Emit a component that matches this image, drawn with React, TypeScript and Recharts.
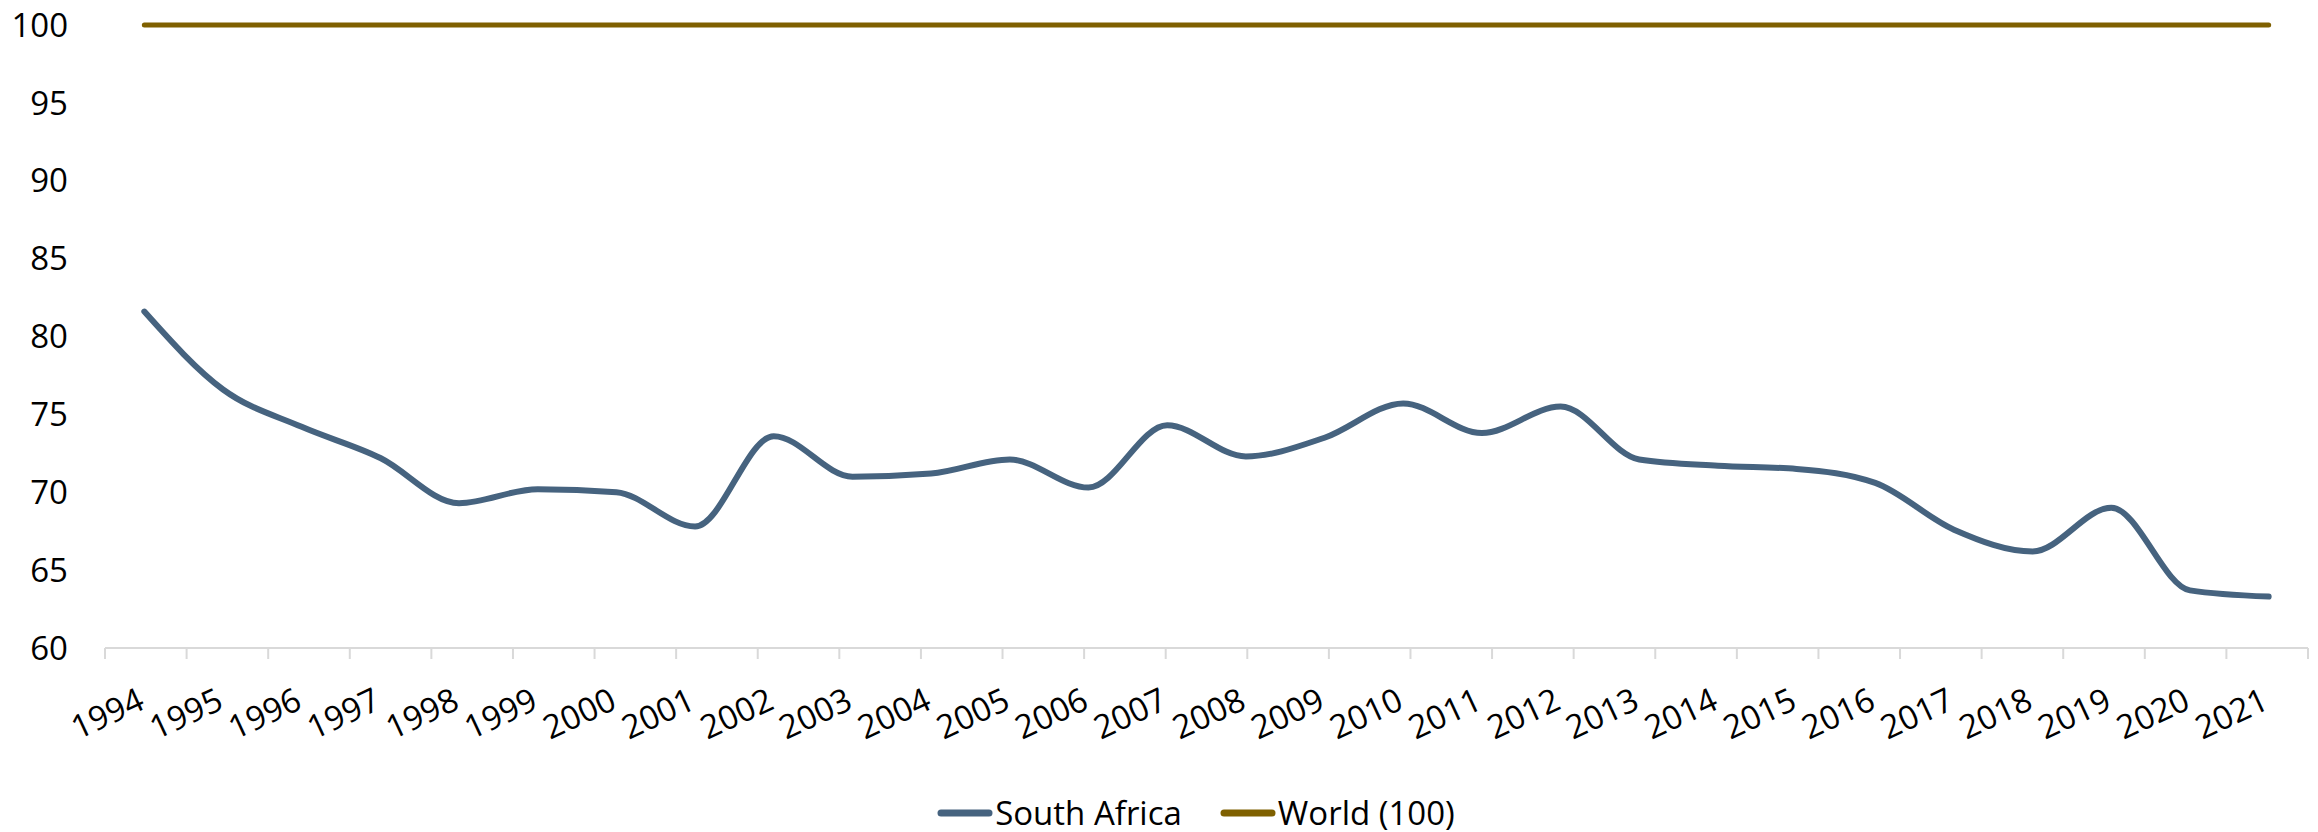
import { Legend, Line, LineChart, XAxis, YAxis } from "recharts";

const years = [
  "1994", "1995", "1996", "1997", "1998", "1999", "2000", "2001", "2002", "2003",
  "2004", "2005", "2006", "2007", "2008", "2009", "2010", "2011", "2012", "2013",
  "2014", "2015", "2016", "2017", "2018", "2019", "2020", "2021",
];

const southAfrica = [
  81.6, 76.6, 74.2, 72.2, 69.3, 70.2, 70.0, 67.8, 73.6, 71.0,
  71.2, 72.1, 70.3, 74.3, 72.3, 73.5, 75.7, 73.8, 75.5, 72.1,
  71.7, 71.5, 70.6, 67.6, 66.2, 69.0, 63.7, 63.3,
];

const world = [
  100, 100, 100, 100, 100, 100, 100, 100, 100, 100,
  100, 100, 100, 100, 100, 100, 100, 100, 100, 100,
  100, 100, 100, 100, 100, 100, 100, 100,
];

const yTicks = [60, 65, 70, 75, 80, 85, 90, 95, 100];

// boundaries between the year categories, for the short tick marks
const boundaryTicks = [
  0, 1, 2, 3, 4, 5, 6, 7, 8, 9, 10, 11, 12, 13, 14,
  15, 16, 17, 18, 19, 20, 21, 22, 23, 24, 25, 26, 27, 28,
];

const data = years.map((year, i) => ({
  year,
  southAfrica: southAfrica[i],
  world: world[i],
}));

const FONT = "'Open Sans', 'Noto Sans', sans-serif";

function YearTick({ x, y, payload }: any) {
  const ax = x + 2;
  const ay = y + 59;
  return (
    <text
      x={ax}
      y={ay}
      transform={`rotate(-25, ${ax}, ${ay})`}
      textAnchor="end"
      fill="#000"
      fontSize={33}
      fontFamily={FONT}
    >
      {payload.value}
    </text>
  );
}

function LegendContent({ payload }: any) {
  return (
    <div
      style={{
        display: "flex",
        justifyContent: "center",
        alignItems: "center",
        gap: 38,
        paddingLeft: 84,
        fontFamily: FONT,
        fontSize: 33,
        lineHeight: "38px",
        color: "#000",
      }}
    >
      {(payload || []).map((entry: any) => (
        <span
          key={entry.value}
          style={{ display: "flex", alignItems: "center" }}
        >
          <svg width={56} height={10}>
            <line
              x1={4}
              y1={5}
              x2={52}
              y2={5}
              stroke={entry.color}
              strokeWidth={7}
              strokeLinecap="round"
            />
          </svg>
          <span style={{ marginLeft: 2 }}>{entry.value}</span>
        </span>
      ))}
    </div>
  );
}

export default function App() {
  return (
    <div
      style={{
        position: "absolute",
        left: 0,
        top: 0,
        width: 2318,
        height: 832,
        background: "#ffffff",
      }}
    >
      <LineChart
        width={2318}
        height={832}
        data={data}
        margin={{ top: 25, right: 10, left: 0, bottom: 0 }}
      >
        {/* axis line + tick marks between the years, sits right under the plot */}
        <XAxis
          xAxisId={0}
          type="number"
          domain={[0, 28]}
          ticks={boundaryTicks}
          interval={0}
          allowDataOverflow
          height={1}
          tickFormatter={() => ""}
          tickSize={11}
          axisLine={{ stroke: "#d9d9d9", strokeWidth: 2 }}
          tickLine={{ stroke: "#d9d9d9", strokeWidth: 2 }}
        />
        <XAxis
          xAxisId="years"
          dataKey="year"
          scale="band"
          interval={0}
          height={145}
          axisLine={false}
          tickLine={false}
          tickSize={0}
          tickMargin={0}
          tick={<YearTick />}
        />
        <YAxis
          domain={[60, 100]}
          ticks={yTicks}
          width={105}
          axisLine={false}
          tickLine={false}
          tickSize={0}
          tickMargin={37}
          tick={{ fill: "#000", fontSize: 33, fontFamily: FONT }}
        />
        <Legend verticalAlign="bottom" content={<LegendContent />} />
        <Line
          xAxisId="years"
          type="monotone"
          dataKey="southAfrica"
          name="South Africa"
          stroke="#46637f"
          strokeWidth={6}
          strokeLinecap="round"
          dot={false}
          isAnimationActive={false}
        />
        <Line
          xAxisId="years"
          type="monotone"
          dataKey="world"
          name="World (100)"
          stroke="#7f6000"
          strokeWidth={5}
          strokeLinecap="round"
          dot={false}
          isAnimationActive={false}
        />
      </LineChart>
    </div>
  );
}
